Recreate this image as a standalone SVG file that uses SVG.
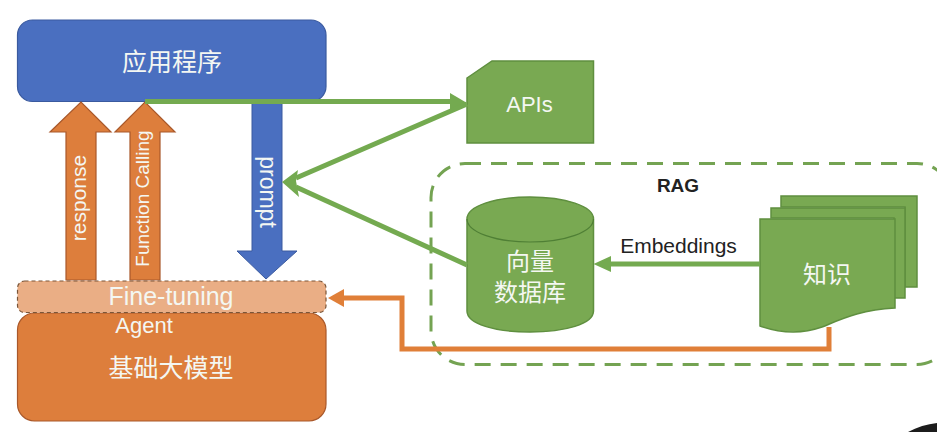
<svg xmlns="http://www.w3.org/2000/svg" width="937" height="432" viewBox="0 0 937 432">
<style>
.t{font-family:"Liberation Sans","Noto Sans CJK SC",sans-serif;fill:#f4f7f2;text-anchor:middle}
.c{font-family:"Noto Sans CJK SC","Liberation Sans",sans-serif;fill:#f4f7f2;text-anchor:middle}
.g{fill:#79a952;stroke:#5f8f3f;stroke-width:1.5}
.gl{fill:none;stroke:#74aa50;stroke-width:5}
.gh{fill:#74aa50;stroke:none}
.o{fill:#dd7e3c;stroke:#a9582a;stroke-width:1.2}
.k{font-family:"Liberation Sans",sans-serif;fill:#222;text-anchor:middle}
</style>
<rect width="937" height="432" fill="#fff"/>
<path d="M908 432C917 427 927 424 937 423V432Z" fill="#1c1c1c"/>
<g id="rag-boundary"><rect x="431" y="163.500" width="520" height="201" rx="34" fill="none" stroke="#74a352" stroke-width="3" stroke-dasharray="16 10"/><text x="678" y="192" class="k" font-size="19" font-weight="700">RAG</text></g>
<g id="app"><rect x="17.500" y="20" width="308.500" height="81.500" rx="15" fill="#4a6fc0" stroke="#3a5a9f" stroke-width="1.200"/><text x="172" y="71" class="c" font-size="25">应用程序</text></g>
<g id="model"><rect x="17.500" y="313" width="308.500" height="108" rx="17" fill="#dd7e3c" stroke="#a9582a" stroke-width="1.200"/><text x="144" y="333" class="t" font-size="22">Agent</text><text x="171" y="377" class="c" font-size="25">基础大模型</text></g>
<g id="response-arrow"><path class="o" d="M66 280V132H50L81 102L111 132H96V280Z"/><text transform="translate(86 198) rotate(-90)" class="t" font-size="21">response</text></g>
<g id="function-arrow"><path class="o" d="M130 280V132H115L145 102L175 132H160V280Z"/><text transform="translate(149 198.500) rotate(-90)" class="t" font-size="19">Function Calling</text></g>
<g id="prompt-arrow"><path d="M252 102V251H237L266 279L297 251H282V102Z" fill="#4a6fc0" stroke="#3a5a9f" stroke-width="1"/><text transform="translate(260 192) rotate(90)" class="t" font-size="23">prompt</text></g>
<g id="finetune"><rect x="17.500" y="281" width="308.500" height="31.500" rx="7" fill="#eaae85" stroke="#7a5538" stroke-width="1.200" stroke-dasharray="4 3"/><text x="171" y="305" class="t" font-size="25">Fine-tuning</text></g>
<g id="apis"><path class="g" d="M467 78L492 61H593.500V143H467Z"/><text x="529.500" y="112" class="t" font-size="22">APIs</text></g>
<g id="vector-db"><path class="g" d="M467 219C467 206 495 197 530 197S593.500 206 593.500 219V311C593.500 324 565 332 530 332S467 324 467 311Z"/><path d="M467 219C467 232 495 242 530 242S593.500 232 593.500 219" fill="none" stroke="#4f7f35" stroke-width="1.200"/><text x="530" y="270" class="c" font-size="24">向量</text><text x="530" y="301" class="c" font-size="24">数据库</text></g>
<g id="knowledge"><path class="g" d="M781 207V196H917V287H905V207Z"/><path class="g" d="M771 218V208H905V298H894V218Z"/><path class="g" d="M760 219H895V308C860 310 842 319 822 327C802 334 780 333 760 326Z"/><text x="827" y="283" class="c" font-size="24">知识</text></g>
<g id="connectors">
<path class="gl" d="M145 101.500H452"/><path class="gh" d="M450 93L467 103L450 112Z"/>
<path class="gl" d="M467 104L296 178"/><path class="gl" d="M467 265L296 187"/><path class="gh" d="M282 182L298 170L296 181L299 197Z"/>
<path class="gl" d="M760 264H608"/><path class="gh" d="M593.500 264L611 256V272Z"/>
<path d="M829 327V349H402V298H344" fill="none" stroke="#e07f38" stroke-width="5"/><path d="M328 298L344 289V307Z" fill="#e07f38"/>
</g>
<text x="678.500" y="253" class="k" font-size="21">Embeddings</text>
</svg>
